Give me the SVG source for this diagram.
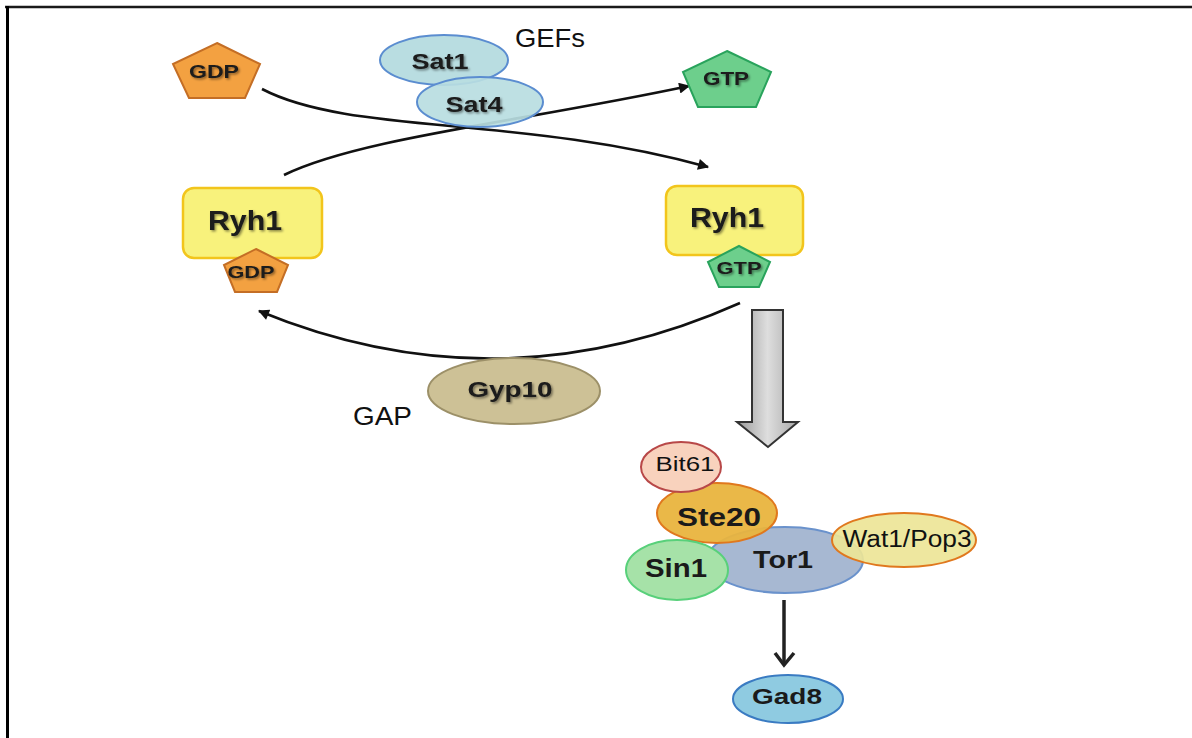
<svg xmlns="http://www.w3.org/2000/svg" width="1192" height="738" viewBox="0 0 1192 738">
<defs>
<style>
.t{font-family:"Liberation Sans",Arial,sans-serif;fill:#1a1a1a;text-anchor:middle;font-weight:bold}
.n{font-family:"Liberation Sans",Arial,sans-serif;fill:#111;font-weight:normal}
.edge{fill:none;stroke:#111;stroke-width:2.6}
.gdp{fill:#f3a141;stroke:#c46e25;stroke-width:2}
.gtp{fill:#6dcf8c;stroke:#29a35c;stroke-width:2}
.ryh{fill:#f8f27c;stroke:#f2c51c;stroke-width:2.5}
.sat{fill:#b9dde1;stroke:#5b8dd0;stroke-width:2}
</style>
<marker id="ah" viewBox="0 0 10 10" refX="9" refY="5" markerWidth="13" markerHeight="11" markerUnits="userSpaceOnUse" orient="auto">
<path d="M0,0 L10,5 L0,10 Z" fill="#111"/>
</marker>
<linearGradient id="gray" x1="0" y1="0" x2="1" y2="0">
<stop offset="0" stop-color="#9a9a9a"/>
<stop offset="0.5" stop-color="#dedede"/>
<stop offset="1" stop-color="#a8a8a8"/>
</linearGradient>
<filter id="sh" x="-10%" y="-10%" width="130%" height="140%">
<feDropShadow dx="1.5" dy="1.5" stdDeviation="0.8" flood-color="#000" flood-opacity="0.45"/>
</filter>
</defs>
<rect width="1192" height="738" fill="#fff"/>
<g id="frame">
<line x1="5" y1="7" x2="1192" y2="7" stroke="#1a1a1a" stroke-width="2.5"/>
<line x1="7.5" y1="6" x2="7.5" y2="738" stroke="#000" stroke-width="3"/>
</g>
<g id="connectors">
<path class="edge" d="M262,89 C350,135 520,115 708,167" marker-end="url(#ah)"/>
<path class="edge" d="M284,175 C360,138 520,122 689,86" marker-end="url(#ah)"/>
<path class="edge" d="M740,303 Q500,410 259,311" marker-end="url(#ah)"/>
<line x1="784" y1="600" x2="784" y2="664" stroke="#222" stroke-width="3.5"/>
<path d="M775,653 L784,665 L794,653" fill="none" stroke="#222" stroke-width="3.5"/>
<polygon points="752,310 783,310 783,422 798,422 768,447 737,422 752,422" fill="url(#gray)" stroke="#333" stroke-width="2"/>
</g>
<g id="gdp-free">
<polygon class="gdp" points="217,43 260,64 245,98 189,98 173,64"/>
<text class="t" x="214" y="78" font-size="18" textLength="50" lengthAdjust="spacingAndGlyphs" filter="url(#sh)">GDP</text>
</g>
<g id="sat1">
<ellipse class="sat" cx="444" cy="60" rx="64" ry="25"/>
<text class="t" x="440" y="69" font-size="22" textLength="57" lengthAdjust="spacingAndGlyphs" filter="url(#sh)">Sat1</text>
</g>
<g id="sat4">
<ellipse class="sat" cx="480" cy="102" rx="63" ry="25" fill-opacity="0.92"/>
<text class="t" x="474" y="112" font-size="22" textLength="57" lengthAdjust="spacingAndGlyphs" filter="url(#sh)">Sat4</text>
</g>
<g id="gefs-label">
<text class="n" x="515" y="47" font-size="26" textLength="70" lengthAdjust="spacingAndGlyphs">GEFs</text>
</g>
<g id="gtp-free">
<polygon class="gtp" points="727,51 771,72 756,107 698,107 683,72"/>
<text class="t" x="726" y="85" font-size="18" textLength="46" lengthAdjust="spacingAndGlyphs" filter="url(#sh)">GTP</text>
</g>
<g id="ryh1-gdp">
<rect class="ryh" x="183" y="188" width="139" height="70" rx="11"/>
<text class="t" x="245" y="230" font-size="27" textLength="74" lengthAdjust="spacingAndGlyphs" filter="url(#sh)">Ryh1</text>
<polygon class="gdp" points="256,249 288,265 277,292 235,292 224,265"/>
<text class="t" x="251" y="278" font-size="17" textLength="47" lengthAdjust="spacingAndGlyphs" filter="url(#sh)">GDP</text>
</g>
<g id="ryh1-gtp">
<rect class="ryh" x="666" y="186" width="137" height="69" rx="11"/>
<text class="t" x="727" y="227" font-size="27" textLength="74" lengthAdjust="spacingAndGlyphs" filter="url(#sh)">Ryh1</text>
<polygon class="gtp" points="739,246 770,262 759,287 719,287 708,262"/>
<text class="t" x="739" y="274" font-size="17" textLength="45" lengthAdjust="spacingAndGlyphs" filter="url(#sh)">GTP</text>
</g>
<g id="gyp10">
<ellipse cx="514" cy="391" rx="86" ry="33" fill="#cdc196" stroke="#9c9068" stroke-width="2"/>
<text class="t" x="510" y="397" font-size="22" textLength="85" lengthAdjust="spacingAndGlyphs" filter="url(#sh)">Gyp10</text>
</g>
<g id="gap-label">
<text class="n" x="353" y="425" font-size="26" textLength="59" lengthAdjust="spacingAndGlyphs">GAP</text>
</g>
<g id="tor1">
<ellipse cx="785" cy="560" rx="78" ry="33" fill="#a7b8d2" stroke="#6a92cc" stroke-width="2"/>
<text class="t" x="783" y="568" font-size="24" textLength="60" lengthAdjust="spacingAndGlyphs">Tor1</text>
</g>
<g id="ste20">
<ellipse cx="717" cy="513" rx="60" ry="30" fill="#e9b43e" fill-opacity="0.95" stroke="#e0781e" stroke-width="2"/>
<text class="t" x="719" y="526" font-size="26" textLength="84" lengthAdjust="spacingAndGlyphs">Ste20</text>
</g>
<g id="bit61">
<ellipse cx="681" cy="467" rx="40" ry="25" fill="#f8d2bd" stroke="#b84848" stroke-width="2"/>
<text class="n" x="685" y="471" font-size="20" text-anchor="middle" textLength="59" lengthAdjust="spacingAndGlyphs">Bit61</text>
</g>
<g id="sin1">
<ellipse cx="677" cy="570" rx="51" ry="30" fill="#a6e2a8" stroke="#58d07a" stroke-width="2"/>
<text class="t" x="676" y="577" font-size="26" textLength="62" lengthAdjust="spacingAndGlyphs">Sin1</text>
</g>
<g id="wat1">
<ellipse cx="904" cy="540" rx="72" ry="27" fill="#ede597" fill-opacity="0.92" stroke="#e0781e" stroke-width="2"/>
<text class="n" x="907" y="547" font-size="23" text-anchor="middle" textLength="129" lengthAdjust="spacingAndGlyphs">Wat1/Pop3</text>
</g>
<g id="gad8">
<ellipse cx="788" cy="699" rx="55" ry="24" fill="#8fcbe1" stroke="#3a7bc2" stroke-width="2"/>
<text class="t" x="787" y="704" font-size="22" textLength="70" lengthAdjust="spacingAndGlyphs">Gad8</text>
</g>
</svg>
